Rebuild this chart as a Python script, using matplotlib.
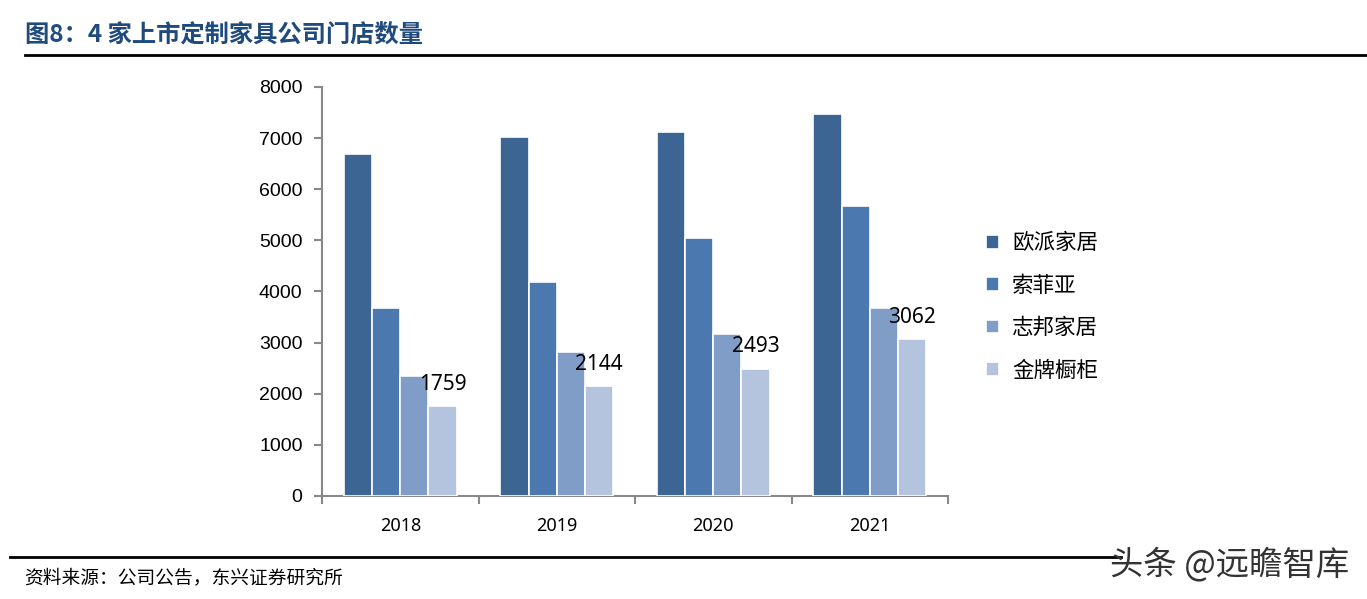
import matplotlib
matplotlib.use("Agg")
import matplotlib.pyplot as plt
import numpy as np

plt.rcParams['font.family'] = ['Noto Sans CJK SC', 'DejaVu Sans']

years = ["2018", "2019", "2020", "2021"]
series_names = ["欧派家居", "索菲亚", "志邦家居", "金牌橱柜"]
oppein = [6680, 7030, 7110, 7470]
sogal = [3670, 4180, 5040, 5670]
zbom = [2350, 2810, 3160, 3670]
goldenhome = [1759, 2144, 2493, 3062]
yticks = [0, 1000, 2000, 3000, 4000, 5000, 6000, 7000, 8000]

title = "图8：4 家上市定制家具公司门店数量"
source = "资料来源：公司公告，东兴证券研究所"
watermark = "头条 @远瞻智库"

colors = ["#3D6594", "#4A78AF", "#809DC8", "#B5C4DE"]
all_series = [oppein, sogal, zbom, goldenhome]

fig = plt.figure(figsize=(13.67, 5.99), dpi=100)
ax = fig.add_axes([0.2356, 0.172, 0.4579, 0.6828])

x = np.arange(len(years))
w = 0.18
offsets = [-1.5, -0.5, 0.5, 1.5]
for vals, c, name, off in zip(all_series, colors, series_names, offsets):
    ax.bar(x + off * w, vals, width=w, color=c, edgecolor="white", linewidth=1.2,
           label=name, zorder=3)

for xi, v in zip(x, goldenhome):
    ax.annotate(str(v), (xi + 1.5 * w, v), xytext=(0, 8), textcoords="offset points",
                ha="center", va="bottom", fontsize=15, family=["Noto Sans", "DejaVu Sans"],
                color="black", zorder=5)

ax.set_xlim(-0.5, 3.5)
ax.set_ylim(0, 8000)
ax.set_yticks(yticks)
ax.set_yticklabels([str(t) for t in yticks], fontsize=14, family=["Liberation Sans", "DejaVu Sans"])
ax.set_xticks(x)
ax.set_xticklabels(years, fontsize=13, family=["Noto Sans", "DejaVu Sans"])
ax.set_xticks(np.arange(-0.5, 4.0, 1.0), minor=True)
ax.tick_params(axis="x", which="major", length=0, pad=15)
ax.tick_params(axis="x", which="minor", length=6, color="#888888", width=1.5)
ax.tick_params(axis="y", length=6, color="#888888", width=1.5, pad=8)

for s in ["top", "right"]:
    ax.spines[s].set_visible(False)
for s in ["left", "bottom"]:
    ax.spines[s].set_color("#888888")
    ax.spines[s].set_linewidth(1.5)

leg = ax.legend(loc="center left", bbox_to_anchor=(1.03, 0.462), frameon=False,
                fontsize=15.5, handlelength=0.6, handleheight=0.6, labelspacing=0.95,
                handletextpad=0.6)

fig.text(0.018, 0.94, title, fontsize=17.5, fontweight="bold", color="#1F4A7E",
         ha="left", va="center")
fig.add_artist(plt.Line2D([0.018, 1.0], [0.909, 0.909], color="black", linewidth=2,
                          transform=fig.transFigure))
fig.add_artist(plt.Line2D([0.007, 0.82], [0.07, 0.07], color="black", linewidth=2,
                          transform=fig.transFigure))
fig.text(0.018, 0.036, source, fontsize=13.5, color="black", ha="left", va="center",
         style="italic")
fig.text(0.987, 0.057, watermark, fontsize=24, color="#333333", ha="right", va="center")

fig.savefig("out.png", dpi=100)
